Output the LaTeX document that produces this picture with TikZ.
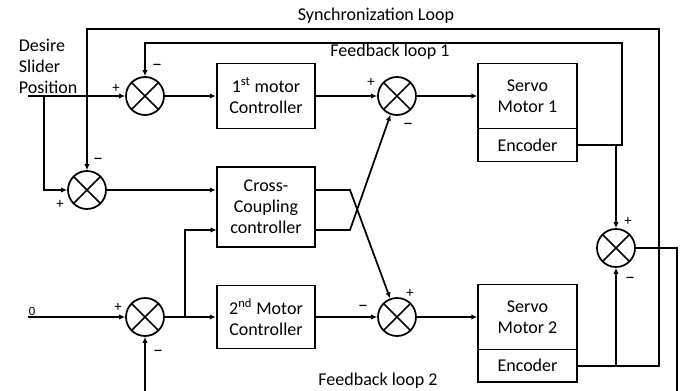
\documentclass[tikz,border=0pt]{standalone}
\usepackage{fontspec}
\setmainfont{Carlito}
\usetikzlibrary{arrows.meta}

\begin{document}
\begin{tikzpicture}[x=0.75pt,y=0.75pt,yscale=-1,xscale=1,
  line width=1.3pt, >={Latex[length=4.5pt,width=4pt]},
  blk/.style={draw, rectangle, inner sep=0pt, minimum width=74pt, align=center, font=\fontsize{13.5}{15.75}\selectfont},
  sumj/.style={draw, circle, minimum size=28.5pt, inner sep=0pt, path picture={\draw (path picture bounding box.north west) -- (path picture bounding box.south east) (path picture bounding box.south west) -- (path picture bounding box.north east);}},
  sgn/.style={inner sep=0.75pt, font=\fontsize{11}{13}\selectfont},
  neg/.style={sgn, font=\fontsize{15}{17}\selectfont},
  lbl/.style={inner sep=0.75pt, font=\fontsize{13.5}{15.75}\selectfont}]

\useasboundingbox (0,0) rectangle (683,391);

\node[sumj] (s1) at (145,96) {};
\node[sumj] (s2) at (87,190) {};
\node[sumj] (s3) at (397,96) {};
\node[sumj] (s4) at (145,317) {};
\node[sumj] (s5) at (616,248) {};
\node[sumj] (s6) at (397,317) {};

\node[blk, minimum height=48.75pt] (mc1) at (266,96) {1\textsuperscript{st} motor\\Controller};
\node[blk, minimum height=60pt] (ccc) at (266,207) {Cross-\\Coupling\\controller};
\node[blk, minimum height=47.25pt] (mc2) at (266,317) {2\textsuperscript{nd} Motor\\Controller};
\node[blk, minimum height=48.75pt] (sm1) at (527.5,96) {Servo\\Motor 1};
\node[blk, minimum height=24.75pt] (enc1) at (527.5,145) {Encoder};
\node[blk, minimum height=48.75pt] (sm2) at (527.5,317) {Servo\\Motor 2};
\node[blk, minimum height=24.4pt] (enc2) at (527.5,365.75) {Encoder};

\node[lbl] (sync) at (376,16) {Synchronization Loop};
\node[lbl, anchor=base] (fbl1) at (390,57) {Feedback loop 1};
\node[lbl, anchor=base] (fbl2) at (378,386) {Feedback loop 2};
\node[lbl, anchor=north west, align=left] (dsp) at (17,37) {Desire\\Slider\\Position};
\node[sgn, font=\fontsize{9.5}{11}\selectfont] (zero) at (32,311) {0};

\node[sgn] (p1) at (116,88) {+};
\node[neg] (m1) at (157,67) {–};
\node[neg] (m2) at (98,161) {–};
\node[sgn] (p2) at (60,204) {+};
\node[sgn] (p3) at (371,82) {+};
\node[neg] (m3) at (408,126) {–};
\node[sgn] (p4) at (118,307) {+};
\node[neg] (m4) at (158,353) {–};
\node[sgn] (p5) at (628,221) {+};
\node[neg] (m5) at (630,280) {–};
\node[sgn] (p6) at (410,293) {+};
\node[neg] (m6) at (363,308) {–};

\coordinate (in1) at (28,96);
\coordinate (in2) at (28,317);
\coordinate (j1) at (44,96);
\coordinate (j2) at (185,317);
\coordinate (ccin) at (216.7,230);
\coordinate (x1) at (350,190);
\coordinate (x2) at (350,230);
\coordinate (fb1) at (622,43);
\coordinate (sy) at (659,29);
\coordinate (fb2) at (677,396);

\draw[->] (in1) -- (s1);

\draw[->] (j1) |- (s2);

\draw[->] (in2) -- (s4);

\draw[->] (s1) -- (mc1);

\draw[->] (mc1) -- (s3);

\draw[->] (s3) -- (sm1);

\draw[->] (s2) -- (s2 -| ccc.west);

\draw[->] (s4) -- (mc2);

\draw[->] (j2) |- (ccin);

\draw[->] (mc2) -- (s6);

\draw[->] (s6) -- (sm2);

\draw[->] (ccc.east |- x1) -- (x1) -- (s6);

\draw[->] (ccc.east |- x2) -- (x2) -- (s3);

\draw[->] (enc1) -| (fb1) -| (s1);

\draw[->] (s5 |- enc1) -- (s5);

\draw[->] (enc2) -| (sy) -| (s2);

\draw[->] (s5 |- enc2) -- (s5);

\draw[->] (s5) -| (fb2) -| (s4);

\end{tikzpicture}
\end{document}
